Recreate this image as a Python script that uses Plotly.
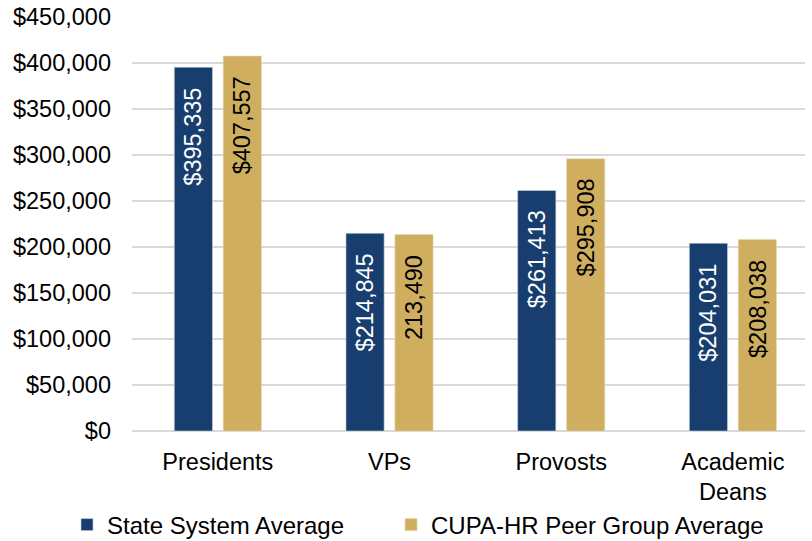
import plotly.graph_objects as go

categories = ["Presidents", "VPs", "Provosts", "Academic<br>Deans"]
state_avg = [395335, 214845, 261413, 204031]
peer_avg = [407557, 213490, 295908, 208038]
state_labels = ["$395,335", "$214,845", "$261,413", "$204,031"]
peer_labels = ["$407,557", "213,490", "$295,908", "$208,038"]
y_ticks = [0, 50000, 100000, 150000, 200000, 250000, 300000, 350000, 400000, 450000]
y_tick_text = ["$0", "$50,000", "$100,000", "$150,000", "$200,000", "$250,000",
               "$300,000", "$350,000", "$400,000", "$450,000"]

BLUE = "#173E6E"
GOLD = "#CFAE5F"
FONT = "Liberation Sans, Arial, sans-serif"
SIZE = 23.5
BARGAP = 0.43
# offset of each bar's centre from its category centre, in category units
HALF_SLOT = (1 - BARGAP) / 4
W, H = 812, 541

fig = go.Figure()
fig.add_trace(go.Bar(
    x=categories, y=state_avg, name="State System Average",
    marker=dict(color=BLUE, line=dict(color="#c8d0dc", width=0.6)),
    hoverinfo="x+y", legend="legend", showlegend=True,
))
fig.add_trace(go.Bar(
    x=categories, y=peer_avg, name="CUPA-HR Peer Group Average",
    marker=dict(color=GOLD, line=dict(color="#e6d6a8", width=0.6)),
    hoverinfo="x+y", legend="legend2", showlegend=True,
))

# vertical value labels placed just inside the top of each bar
for i in range(len(categories)):
    for vals, labels, offset, color in (
        (state_avg, state_labels, -HALF_SLOT, "white"),
        (peer_avg, peer_labels, HALF_SLOT, "black"),
    ):
        fig.add_annotation(
            x=i + offset, y=vals[i], xref="x", yref="y",
            text=labels[i], textangle=-90, showarrow=False,
            xanchor="center", yanchor="top", yshift=-18,
            font=dict(color=color, size=SIZE, family=FONT),
        )

legend_style = dict(
    orientation="h", xref="container", xanchor="left",
    y=(H - 525) / H, yref="container", yanchor="middle",
    font=dict(size=24, family=FONT), itemwidth=30, bgcolor="rgba(0,0,0,0)",
)

fig.update_layout(
    width=W, height=H,
    margin=dict(l=132, r=7, t=17, b=110),
    paper_bgcolor="white", plot_bgcolor="white",
    barmode="group", bargap=BARGAP, bargroupgap=0.22,
    font=dict(family=FONT, size=SIZE, color="black"),
    showlegend=True,
    legend=dict(x=67 / W, **legend_style),
    legend2=dict(x=391 / W, **legend_style),
    xaxis=dict(
        range=[-0.5, 3.42], showgrid=False, showline=False, ticks="",
        tickfont=dict(size=SIZE, family=FONT), ticklabelstandoff=14,
        automargin=False,
    ),
    yaxis=dict(
        range=[0, 450000], tickvals=y_ticks, ticktext=y_tick_text,
        showgrid=True, gridcolor="#d9d9d9", gridwidth=1.5,
        zeroline=True, zerolinecolor="#d9d9d9", zerolinewidth=2,
        showline=False, ticks="", tickfont=dict(size=SIZE, family=FONT),
        ticklabelstandoff=20, automargin=False,
    ),
)

fig.write_html("out.html")
